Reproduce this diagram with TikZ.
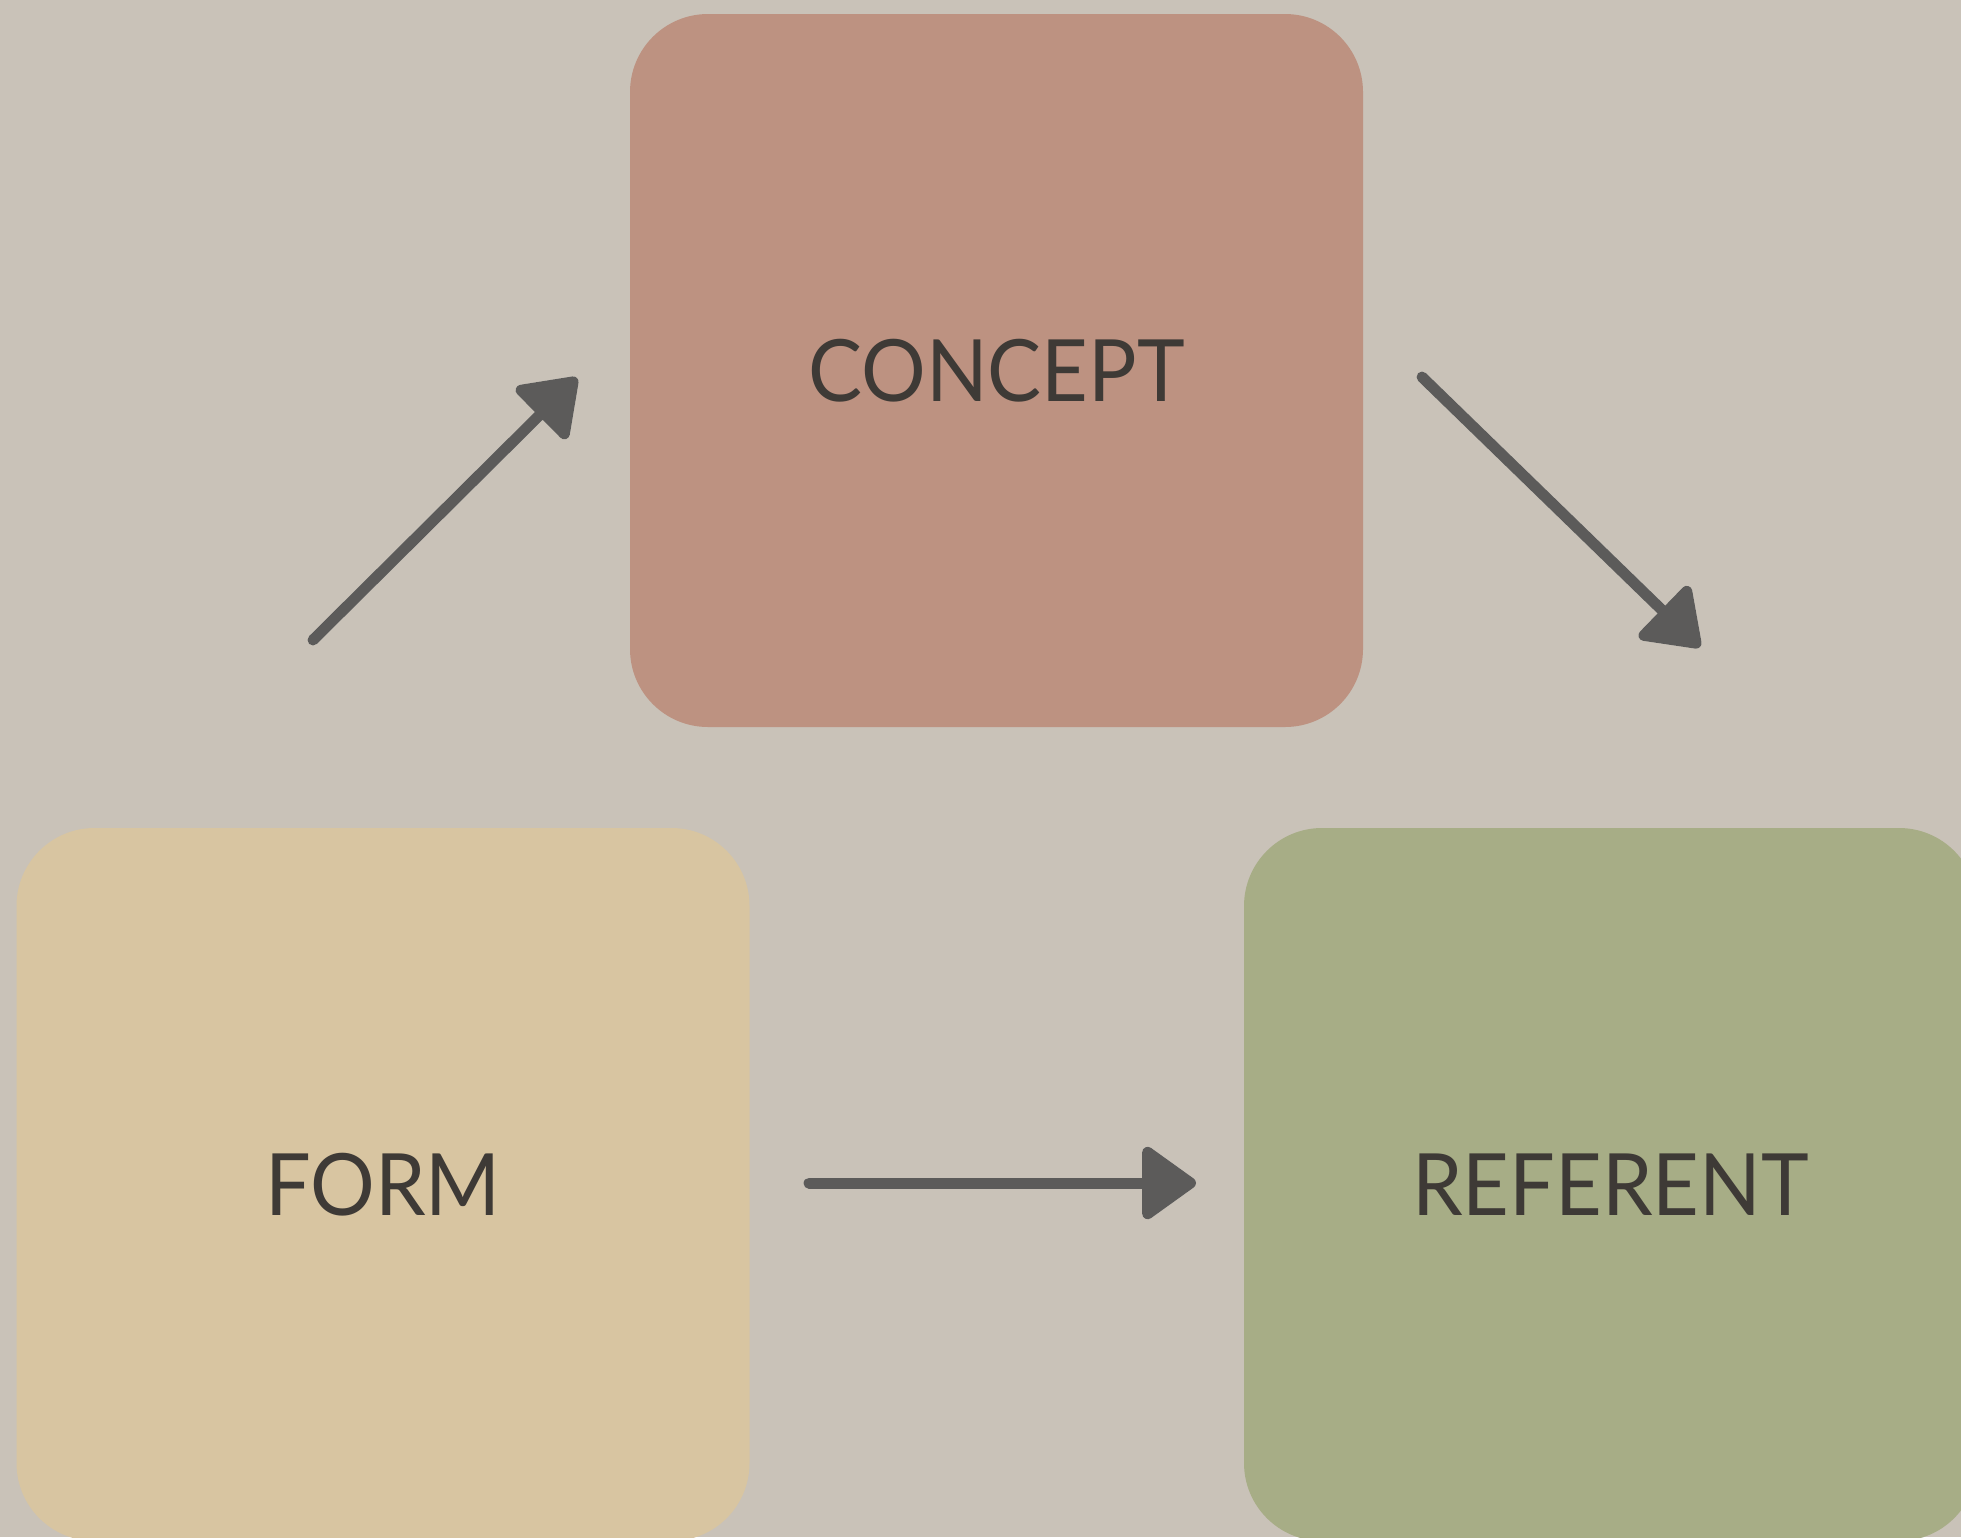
\documentclass[tikz,border=0pt]{standalone}
\usepackage{fontspec}
\setmainfont{Lato}
\usetikzlibrary{arrows.meta}
\definecolor{bgc}{HTML}{C9C2B8}
\definecolor{conceptc}{HTML}{BD9281}
\definecolor{formc}{HTML}{D8C5A1}
\definecolor{refc}{HTML}{A7AD86}
\definecolor{textc}{HTML}{3E3A36}
\definecolor{arrowc}{HTML}{5C5B5A}
\definecolor{haloc}{HTML}{E4DFD8}
\newcommand{\boxlabel}[1]{\scalebox{0.94}[1]{#1}}
\tikzset{
  box/.style={rectangle, rounded corners=78pt, minimum width=733pt, minimum height=713pt,
    inner sep=0pt, text=textc, font=\fontsize{86}{100}\selectfont},
  chalk/.style={draw=arrowc, fill=arrowc, line width=11pt, line cap=round,
    -{Triangle[length=58pt, width=80pt, round]}},
  chalkhalo/.style={draw=haloc, fill=haloc, line width=11pt, line cap=round,
    -{Triangle[length=58pt, width=80pt, round]}},
}
\begin{document}
\begin{tikzpicture}[x=1pt, y=-1pt]
\clip (0,0) rectangle (1961,1537);
\fill[bgc] (0,0) rectangle (1961,1537);
\node[box, fill=conceptc] (concept) at (996.5,370.5) {\boxlabel{CONCEPT}};
\node[box, fill=formc] (form) at (383,1184.5) {\boxlabel{FORM}};
\node[box, fill=refc] (referent) at (1610.5,1184.5) {\boxlabel{REFERENT}};
% arrow end points
\coordinate (a1s) at (313,640);
\coordinate (a1e) at (577,378);
\coordinate (a2s) at (1422,377);
\coordinate (a2e) at (1700,647);
\coordinate (a3s) at (809,1183);
\coordinate (a3e) at (1196,1183);
\begin{scope}[shift={(2,3)}]
\draw[chalkhalo] (a1s) -- (a1e);
\draw[chalkhalo] (a2s) -- (a2e);
\draw[chalkhalo] (a3s) -- (a3e);
\end{scope}
\draw[chalk] (a1s) -- (a1e);
\draw[chalk] (a2s) -- (a2e);
\draw[chalk] (a3s) -- (a3e);
\end{tikzpicture}
\end{document}
